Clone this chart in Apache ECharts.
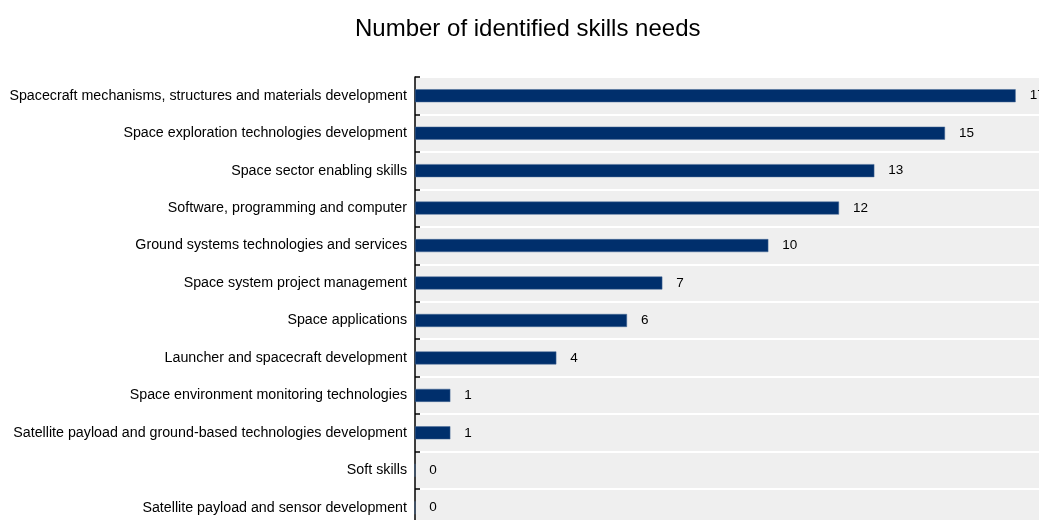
<!DOCTYPE html>
<html>
<head>
<meta charset="utf-8">
<script src="https://cdn.jsdelivr.net/npm/echarts@6/dist/echarts.min.js"></script>
<style>
  html, body { margin: 0; padding: 0; background: #ffffff; }
  #chart { width: 1039px; height: 520px; }
</style>
</head>
<body>
<div id="chart"></div>
<script>
// Skill areas, listed top to bottom
const categories = [
  'Spacecraft mechanisms, structures and materials development',
  'Space exploration technologies development',
  'Space sector enabling skills',
  'Software, programming and computer',
  'Ground systems technologies and services',
  'Space system project management',
  'Space applications',
  'Launcher and spacecraft development',
  'Space environment monitoring technologies',
  'Satellite payload and ground-based technologies development',
  'Soft skills',
  'Satellite payload and sensor development'
];
// Number of identified skills needs per area
const skillNeeds = [17, 15, 13, 12, 10, 7, 6, 4, 1, 1, 0, 0];

const FONT = '"Liberation Sans", Arial, sans-serif';

const chart = echarts.init(document.getElementById('chart'), null, { renderer: 'canvas' });
chart.setOption({
  animation: false,
  backgroundColor: '#ffffff',
  title: {
    text: 'Number of identified skills needs',
    left: 350,
    top: 12,
    textStyle: { fontFamily: FONT, fontSize: 24, fontWeight: 'normal', color: '#000000' }
  },
  // the plot runs slightly past the right and bottom edges of the canvas
  grid: { left: 415, right: -12, top: 77, height: 449.5, containLabel: false, outerBoundsMode: 'none' },
  xAxis: {
    type: 'value',
    min: 0,
    max: 18,
    show: false
  },
  yAxis: {
    type: 'category',
    data: categories,
    inverse: true,
    axisLine: { show: true, lineStyle: { color: '#000000', width: 1.5 } },
    axisTick: { show: true, inside: true, length: 5, lineStyle: { color: '#000000', width: 1.5 } },
    axisLabel: { fontFamily: FONT, fontSize: 14.25, color: '#000000', margin: 8 },
    splitArea: { show: true, areaStyle: { color: ['#efefef'] } },
    splitLine: { show: true, lineStyle: { color: '#ffffff', width: 2 } }
  },
  series: [{
    type: 'bar',
    data: skillNeeds,
    barWidth: 13,
    itemStyle: { color: '#002f6c', borderColor: '#4a6d99', borderWidth: 0.5 },
    label: {
      show: true,
      position: 'right',
      distance: 14,
      fontFamily: FONT,
      fontSize: 13.5,
      color: '#000000'
    }
  }]
});
</script>
</body>
</html>
